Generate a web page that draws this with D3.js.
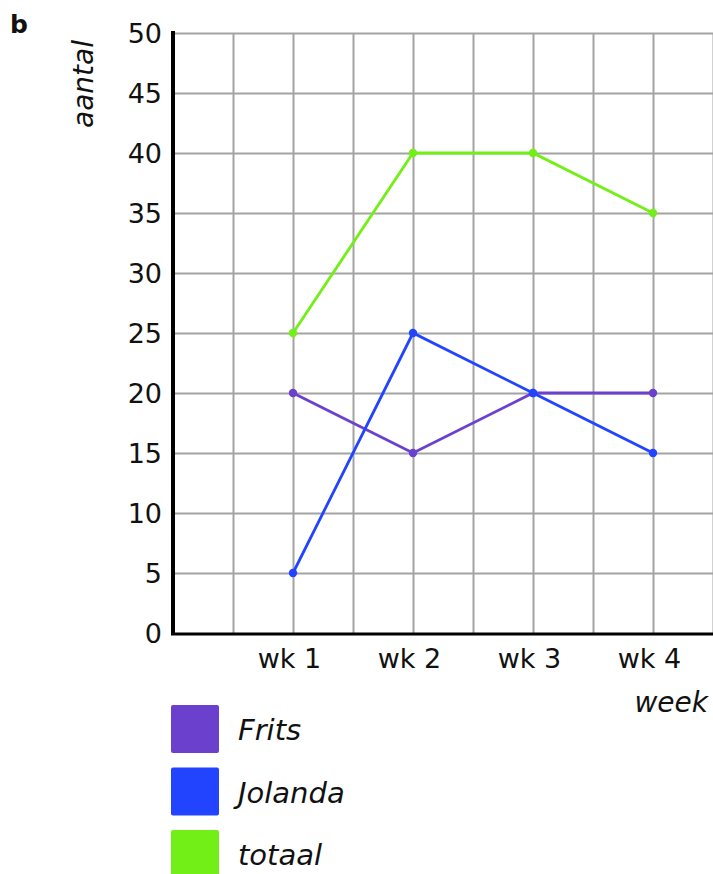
<!DOCTYPE html>
<html>
<head>
<meta charset="utf-8">
<script src="https://cdn.jsdelivr.net/npm/d3@7"></script>
<style>
  html, body { margin: 0; padding: 0; background: #fff; }
  svg { display: block; }
  text { font-family: "DejaVu Sans", Verdana, sans-serif; fill: #111; }
</style>
</head>
<body>
<svg id="chart" width="713" height="874"></svg>
<script>
// ---- data ----
const weeks = ["wk 1", "wk 2", "wk 3", "wk 4"];
const frits = [20, 15, 20, 20];
const jolanda = [5, 25, 20, 15];
const totaal = [25, 40, 40, 35];
const yTicks = [0, 5, 10, 15, 20, 25, 30, 35, 40, 45, 50];
const seriesNames = ["Frits", "Jolanda", "totaal"];
const seriesColors = ["#6a40cc", "#2244ff", "#72ef16"];

const series = [
  { name: seriesNames[0], values: frits, color: seriesColors[0] },
  { name: seriesNames[1], values: jolanda, color: seriesColors[1] },
  { name: seriesNames[2], values: totaal, color: seriesColors[2] }
];

const svg = d3.select("#chart");
const mLeft = 173, mRight = 713, mTop = 33, mBottom = 633;

const x = d3.scaleLinear().domain([0, 4.5]).range([mLeft, mRight]);
const y = d3.scaleLinear().domain([0, 50]).range([mBottom, mTop]);

// vertical grid (every half week)
const vGrid = d3.range(1, 10).map(d => d / 2);
const gridG = svg.append("g")
  .attr("transform", `translate(0,${mTop})`)
  .call(d3.axisBottom(x).tickValues(vGrid).tickSize(mBottom - mTop).tickFormat(""));
gridG.select(".domain").remove();
gridG.selectAll("line").attr("stroke", "#a3a3a3").attr("stroke-width", 2);

// horizontal grid + y labels
const yAxis = svg.append("g")
  .attr("transform", `translate(${mLeft},0)`)
  .call(d3.axisLeft(y).tickValues(yTicks).tickSize(-(mRight - mLeft)).tickPadding(11));
yAxis.select(".domain").remove();
yAxis.selectAll("line").attr("stroke", "#a3a3a3").attr("stroke-width", 2)
  .filter(d => d === 0).remove();
yAxis.selectAll("text")
  .attr("font-size", 27)
  .attr("font-family", "DejaVu Sans, Verdana, sans-serif")
  .attr("fill", "#111")
  .attr("dy", "0.36em");

// x labels
const xAxis = svg.append("g")
  .attr("transform", `translate(0,${mBottom})`)
  .call(d3.axisBottom(x).tickValues([1, 2, 3, 4]).tickSize(0).tickPadding(0)
    .tickFormat(d => weeks[d - 1]));
xAxis.select(".domain").remove();
xAxis.selectAll("text")
  .attr("font-size", 27)
  .attr("font-family", "DejaVu Sans, Verdana, sans-serif")
  .attr("fill", "#111")
  .attr("dy", 0)
  .attr("y", 35)
  .attr("x", -4);

// thick axis lines
svg.append("line").attr("x1", mLeft).attr("x2", mLeft).attr("y1", mTop - 2).attr("y2", mBottom + 2)
  .attr("stroke", "#000").attr("stroke-width", 4);
svg.append("line").attr("x1", mLeft - 2).attr("x2", mRight).attr("y1", mBottom + 1).attr("y2", mBottom + 1)
  .attr("stroke", "#000").attr("stroke-width", 3);

// lines & points
const line = d3.line().x((d, i) => x(i + 1)).y(d => y(d));
series.forEach(s => {
  svg.append("path").datum(s.values)
    .attr("d", line)
    .attr("fill", "none")
    .attr("stroke", s.color)
    .attr("stroke-width", 2.8);
  svg.selectAll(null).data(s.values).enter().append("circle")
    .attr("cx", (d, i) => x(i + 1))
    .attr("cy", d => y(d))
    .attr("r", 4.2)
    .attr("fill", s.color);
});

// axis titles
svg.append("text")
  .attr("transform", "translate(93,84) rotate(-90)")
  .attr("text-anchor", "middle")
  .attr("font-size", 28)
  .attr("font-style", "italic")
  .text("aantal");
svg.append("text")
  .attr("x", 708).attr("y", 712)
  .attr("text-anchor", "end")
  .attr("font-size", 28)
  .attr("font-style", "italic")
  .text("week");

// panel label
svg.append("text")
  .attr("x", 10).attr("y", 33)
  .attr("font-size", 25)
  .attr("font-weight", "bold")
  .text("b");

// legend
const leg = svg.append("g");
series.forEach((s, i) => {
  const yy = 705 + i * 62.5;
  leg.append("rect")
    .attr("x", 171).attr("y", yy).attr("width", 48).attr("height", 48)
    .attr("rx", 2).attr("fill", s.color);
  leg.append("text")
    .attr("x", 238).attr("y", yy + 35)
    .attr("font-size", 29)
    .attr("font-style", "italic")
    .text(s.name);
});
</script>
</body>
</html>
